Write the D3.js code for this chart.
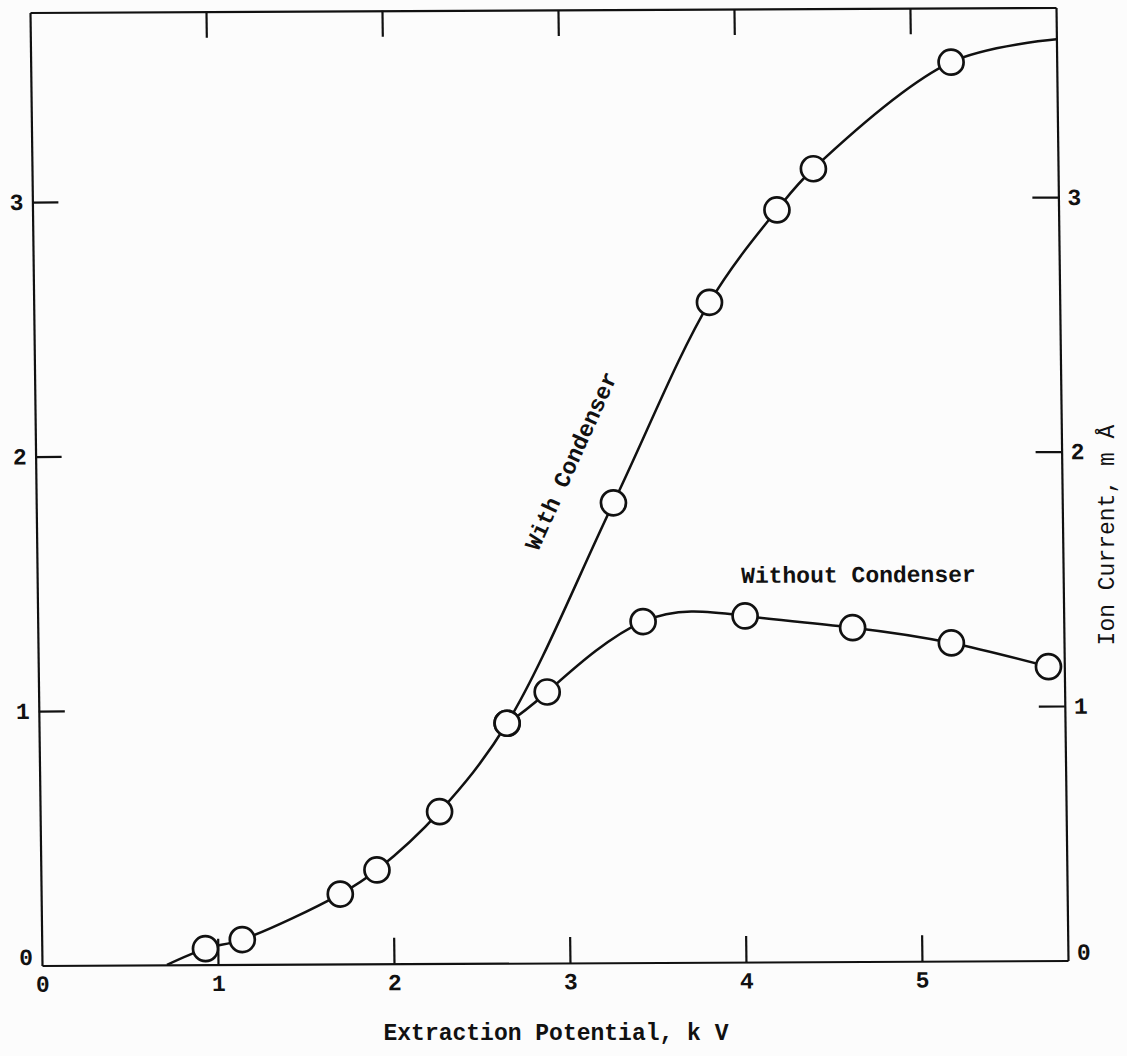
<!DOCTYPE html>
<meta charset="utf-8">
<style>
    body { margin: 0; background: #fcfcfc; }
    svg { display: block; background: #fcfcfc; }
    .axis path, .axis line { stroke: #111; stroke-width: 2.2px; }
    .axis text {
        font-family: "Liberation Mono", "DejaVu Sans Mono", monospace;
        font-weight: bold;
        font-size: 23px;
        fill: #111;
    }
    .curve { fill: none; stroke: #111; stroke-width: 2.5px; }
    .pt { fill: #fcfcfc; stroke: #111; stroke-width: 2.7px; }
    .lbl {
        font-family: "Liberation Mono", "DejaVu Sans Mono", monospace;
        font-size: 23px;
        fill: #111;
    }
</style>
<body>
    <svg width="1127" height="1056"></svg>
</body>
<script src="https://d3js.org/d3.v7.min.js"></script>
<script>

    // values (kV, mA)
    var withX    = [0.93, 1.14, 1.70, 1.91, 2.27, 2.66, 3.28, 3.84, 4.23, 4.44, 5.23];
    var withY    = [0.063, 0.098, 0.275, 0.369, 0.597, 0.943, 1.807, 2.593, 2.955, 3.116, 3.532];
    var withoutX = [2.66, 2.89, 3.44, 4.02, 4.63, 5.19, 5.74];
    var withoutY = [0.943, 1.065, 1.34, 1.36, 1.312, 1.25, 1.155];

    // where the drawn "with condenser" curve starts and leaves the frame
    var withStart = [0.71, 0];
    var withEnd   = [5.83, 3.62];

    var xTicks = [0, 1, 2, 3, 4, 5];
    var yTicks = [0, 1, 2, 3];

    var svg = d3.select("svg");

    var x = d3.scaleLinear().domain([0, 5.83]).range([36, 1062]);
    var y = d3.scaleLinear().domain([0, 3.745]).range([963, 10]);

    // the scan is slightly sheared, mimic it
    var k = 0.0126, m = 0.0049, ym = 486, xm = 549;
    var g = svg.append("g")
            .attr("transform", "matrix(1," + (-m) + "," + k + ",1," + (-k * ym) + "," + (m * xm) + ")");

    // axes, ticks point inward
    g.append("g")
            .attr("class", "axis")
            .attr("transform", "translate(0," + y(0) + ")")
            .call(d3.axisBottom(x).tickValues(xTicks).tickSizeInner(-26).tickSizeOuter(0).tickPadding(10).tickFormat(d3.format("d")));

    g.append("g")
            .attr("class", "axis")
            .attr("transform", "translate(0," + y.range()[1] + ")")
            .call(d3.axisTop(x).tickValues(xTicks.slice(1)).tickSizeInner(-26).tickSizeOuter(0).tickFormat(""));

    g.append("g")
            .attr("class", "axis yAxis")
            .attr("transform", "translate(" + x(0) + ",0)")
            .call(d3.axisLeft(y).tickValues(yTicks).tickSizeInner(-26).tickSizeOuter(0).tickPadding(9).tickFormat(d3.format("d")));

    g.append("g")
            .attr("class", "axis yAxis")
            .attr("transform", "translate(" + x.range()[1] + ",0)")
            .call(d3.axisRight(y).tickValues(yTicks).tickSizeInner(-26).tickSizeOuter(0).tickPadding(9).tickFormat(d3.format("d")));

    // hide the tick lines sitting on the frame corners
    g.selectAll(".axis .tick").filter(function (d) { return d === 0; }).select("line").remove();
    // the zero labels of the y axes sit a little above the baseline
    g.selectAll(".yAxis .tick").filter(function (d) { return d === 0; })
            .select("text").attr("dy", "-0.05em");

    var line = d3.line()
            .x(function (d) { return x(d[0]); })
            .y(function (d) { return y(d[1]); })
            .curve(d3.curveCatmullRom.alpha(0.5));

    var withPts = withX.map(function (v, i) { return [v, withY[i]]; });
    var withoutPts = withoutX.map(function (v, i) { return [v, withoutY[i]]; });

    g.append("path")
            .attr("class", "curve")
            .attr("d", line([withStart].concat(withPts, [withEnd])));

    g.append("path")
            .attr("class", "curve")
            .attr("d", line.curve(d3.curveNatural)(withoutPts));

    g.selectAll(".pt")
            .data(withPts.concat(withoutPts))
            .enter().append("circle")
            .attr("class", "pt")
            .attr("cx", function (d) { return x(d[0]); })
            .attr("cy", function (d) { return y(d[1]); })
            .attr("r", 12.5);

    // curve labels
    g.append("text")
            .attr("class", "lbl")
            .attr("font-weight", "bold")
            .attr("text-anchor", "middle")
            .attr("dominant-baseline", "central")
            .attr("transform", "translate(" + x(3.05) + "," + y(1.97) + ") rotate(-65)")
            .text("With Condenser");

    g.append("text")
            .attr("class", "lbl")
            .attr("font-weight", "bold")
            .attr("x", x(4.0))
            .attr("y", y(1.49))
            .text("Without Condenser");

    // axis titles
    svg.append("text")
            .attr("class", "lbl")
            .attr("font-weight", "bold")
            .attr("text-anchor", "middle")
            .attr("x", 556)
            .attr("y", 1040)
            .text("Extraction Potential, k V");

    svg.append("text")
            .attr("class", "lbl")
            .attr("text-anchor", "middle")
            .attr("dominant-baseline", "central")
            .attr("transform", "translate(1108,535) rotate(-90)")
            .text("Ion Current, m Å");

</script>
